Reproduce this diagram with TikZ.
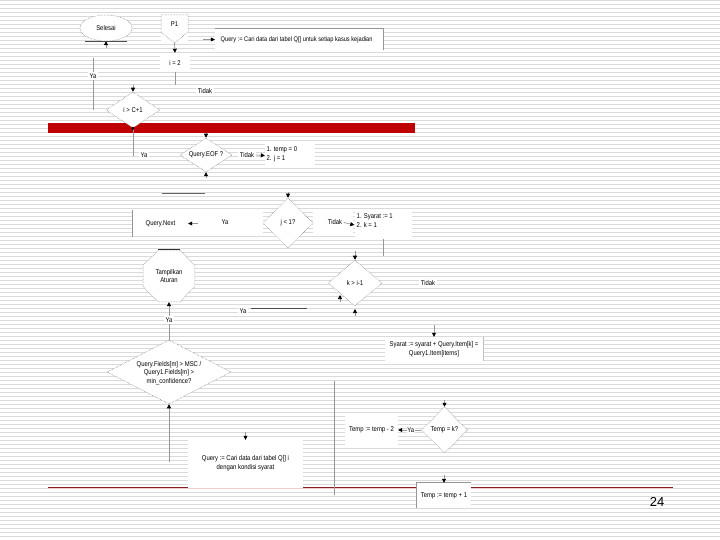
\documentclass[tikz,border=0pt]{standalone}
\usepackage{fontspec}
\setmainfont{Liberation Sans}[FakeStretch=0.85]
\newfontfamily\pnfont{Liberation Sans}
\usetikzlibrary{shapes.geometric,arrows.meta}
\definecolor{stripe}{RGB}{218,218,218}
\definecolor{barred}{RGB}{192,0,0}
\definecolor{linered}{RGB}{140,28,36}
\definecolor{edge}{RGB}{150,150,150}
\definecolor{dots}{RGB}{110,110,110}
\begin{document}
\begin{tikzpicture}[x=1bp,y=-1bp,
  stripeline/.style={draw=stripe, line width=1.1bp},
  txt/.style={font=\fontsize{7}{8.5}\selectfont, inner sep=0.5bp, text=black},
  wbox/.style={fill=white, draw=none, inner sep=0},
  dia/.style={diamond, fill=white, draw=dots, densely dotted, line width=0.5bp, inner sep=0},
  conn/.style={draw=edge, line width=0.7bp},
  arr/.style={conn, -{Triangle[length=4bp,width=4bp,black]}},
  lbl/.style={txt, fill=white, inner sep=1.5bp},
]
\useasboundingbox (0,0) rectangle (720,540);
\fill[white] (0,0) rectangle (720,540);
\foreach \k in {0,...,134} \draw[stripeline] (0,4*\k+0.5) -- (720,4*\k+0.5);

% red bar and bottom rule
\fill[barred] (48,123) rectangle (415,133);
\draw[linered, line width=1bp] (48,487) -- (673,487);
\draw[draw={rgb,255:red,240;green,205;blue,205}, line width=0.8bp] (48,488.3) -- (673,488.3);

% white strips behind label rows
\fill[white] (188,211) rectangle (263,236);
\fill[white] (313,212) rectangle (353,234);

% Selesai
\node[ellipse, fill=white, draw=dots, densely dotted, line width=0.5bp, minimum width=52bp, minimum height=26bp] (sel) at (106,28) {};
\node[txt] at (sel) {Selesai};
\draw[draw=black!70, line width=0.7bp] (85,41) -- (127,41);
\coordinate (selin) at (106,48);
\draw[arr] (selin) -- (sel.south);

% P1 off-page connector
\node[wbox, minimum width=27bp, minimum height=28bp] (p1) at (174.5,29) {};
\filldraw[fill=white, draw=dots, densely dotted, line width=0.5bp] (161,15) -- (188,15) -- (188,32) -- (174.5,43) -- (161,32) -- cycle;
\node[txt] at (174.5,24) {P1};

% Query box top
\node[wbox, minimum width=168bp, minimum height=21bp] (qbox) at (299,39.5) {};
\node[txt, font=\fontsize{6.7}{8}\selectfont, anchor=west] at (220,39.5) {Query := Cari data dari tabel Q[] untuk setiap kasus kejadian};
\draw[conn] (qbox.north west) -- (qbox.north east) -- (qbox.south east);
\coordinate (qa) at (203,39.5);
\draw[arr] (qa) -- (qbox.west);

% i = 2
\node[wbox, txt, minimum width=30bp, minimum height=19bp] (i2) at (175,62.5) {i = 2};
\draw[arr] (p1.south) -- (i2.north);
\coordinate (i2b) at (175,85);
\draw[conn] (i2.south) -- (i2b);

% Ya (left) and Tidak
\coordinate (ya1t) at (93,58);
\coordinate (ya1b) at (93,110);
\draw[conn] (ya1t) -- (ya1b);
\node[lbl] (ya1) at (93,76) {Ya};
\node[lbl] (td1) at (205,91) {Tidak};

% diamond i > C+1
\node[dia, minimum width=54bp, minimum height=36bp] (d1) at (133,110) {};
\node[txt] at (d1) {i > C+1};
\coordinate (d1in) at (133,85);
\draw[arr] (d1in) -- (d1.north);
\coordinate (d1o) at (133,156);
\draw[conn] (d1.south) -- (d1o);
\fill[black] (d1.south) circle (1.6bp);
\node[lbl] (ya2) at (144,155) {Ya};

% diamond Query.EOF ?
\node[dia, minimum width=52bp, minimum height=34bp] (d2) at (206,155) {};
\node[txt] at (d2) {Query.EOF ?};
\coordinate (d2in) at (206,133);
\draw[arr] (d2in) -- (d2.north);
\coordinate (d2u) at (206,178);
\draw[arr] (d2u) -- (d2.south);

% 1. temp = 0 box
\node[lbl] (td2) at (247,155) {Tidak};
\node[wbox, minimum width=50bp, minimum height=23bp] (b1) at (290,155.5) {};
\node[txt, anchor=north west, align=left] at (266,146) {1. temp = 0\\2. j = 1};
\draw[arr] (td2.east) -- (b1.west);

% loose line
\coordinate (h1a) at (162,193);
\coordinate (h1b) at (205,193);
\draw[draw=black!60, line width=0.8bp] (h1a) -- (h1b);

% Query.Next
\node[wbox, txt, minimum width=55bp, minimum height=26bp] (qn) at (160.5,223.5) {Query.Next};
\draw[conn] (qn.north west) -- (qn.south west);
\coordinate (qna) at (198,223.5);
\draw[arr] (qna) -- (qn.east);
\node[lbl] (ya3) at (225,222.5) {Ya};

% diamond j
\node[dia, minimum width=50bp, minimum height=50bp] (d3) at (288,223) {};
\node[txt] at (d3) {j < 1?};
\coordinate (d3in) at (288,192);
\draw[arr] (d3in) -- (d3.north);

% Syarat := 1 box
\node[lbl] (td3) at (335,222.5) {Tidak};
\node[wbox, minimum width=57bp, minimum height=27bp] (b2) at (383,225) {};
\node[txt, anchor=north west, align=left] at (356,213) {1. Syarat := 1\\2. k = 1};
\draw[arr] (td3.east) -- (b2.west);
\coordinate (b2l) at (383,256);
\draw[conn] (b2.south) -- (b2l);

% Tampilkan Aturan
\node[regular polygon, regular polygon sides=8, fill=white, draw=dots, densely dotted, line width=0.5bp, minimum size=56bp, inner sep=0] (tamp) at (169,276) {};
\node[txt, align=center] at (tamp) {Tampilkan\\Aturan};
\draw[draw=black!80, line width=0.8bp] (tamp.corner 1) -- (tamp.corner 2);

% big diamond
\node[dia, minimum width=124bp, minimum height=64bp] (d4) at (169,372) {};
\node[txt, align=center] at (169,373) {Query.Fields[m] > MSC /\\Query1.Fields[m] >\\min\_confidence?};
\draw[arr] (d4.north) -- (tamp.south);
\node[lbl] (ya4) at (169,320) {Ya};
\coordinate (d4l) at (169,462);
\draw[arr] (d4l) -- (d4.south);

% Query := ... dengan kondisi syarat
\node[wbox, minimum width=115bp, minimum height=48bp] (q2) at (245.5,464) {};
\node[txt, align=center] at (245.5,463) {Query := Cari data dari tabel Q[] i\\dengan kondisi syarat};
\coordinate (q2in) at (245.5,432);
\draw[arr] (q2in) -- (q2.north);

% vertical line
\coordinate (v1a) at (334,381);
\coordinate (v1b) at (334,495);
\draw[conn] (v1a) -- (v1b);

% diamond k > i-1
\node[dia, minimum width=54bp, minimum height=46bp] (d5) at (355,283) {};
\node[txt] at (d5) {k > i-1};
\coordinate (d5in) at (355,251);
\draw[arr] (d5in) -- (d5.north);
\coordinate (d5u) at (355,316);
\coordinate (d5ut) at (355,309);
\draw[arr] (d5u) -- (d5ut);
\coordinate (d5l) at (340,302);
\coordinate (d5lt) at (340,295);
\draw[arr] (d5l) -- (d5lt);
\node[lbl] (td5) at (428,283) {Tidak};

% Ya line
\node[lbl] (ya5) at (243,311) {Ya};
\coordinate (ya5e) at (307,308);
\draw[draw=black!70, line width=0.8bp] (251,308) -- (ya5e);

% Syarat := syarat + ...
\node[wbox, minimum width=98bp, minimum height=24bp] (sy) at (434,349) {};
\node[txt, align=center] at (sy) {Syarat := syarat + Query.Item[k] =\\Query1.Item[items]};
\draw[conn, draw=black!25] (sy.north east) -- (sy.south east);
\coordinate (syin) at (434,325);
\draw[arr] (syin) -- (sy.north);

% diamond Temp = k?
\node[dia, minimum width=46bp, minimum height=46bp] (d6) at (444.5,430) {};
\node[txt] at (d6) {Temp = k?};
\coordinate (d6in) at (444.5,400);
\draw[arr] (d6in) -- (d6.north);
\node[wbox, txt, minimum width=53bp, minimum height=30bp] (t2) at (371.5,430) {Temp := temp - 2};
\draw[arr] (d6.west) -- (t2.east) node[lbl, pos=0.45, fill=white, inner sep=0.5bp] (ya6) {Ya};

% Temp := temp + 1
\node[wbox, txt, minimum width=54bp, minimum height=25bp] (t1) at (444,495.5) {Temp := temp + 1};
\draw[conn] (t1.south west) -- (t1.north west) -- (t1.north east);
\coordinate (t1in) at (444,475);
\draw[arr] (t1in) -- (t1.north);

% page number
\node[font=\pnfont\fontsize{13}{14}\selectfont, inner sep=0] (pg) at (657,502) {24};
\end{tikzpicture}
\end{document}
